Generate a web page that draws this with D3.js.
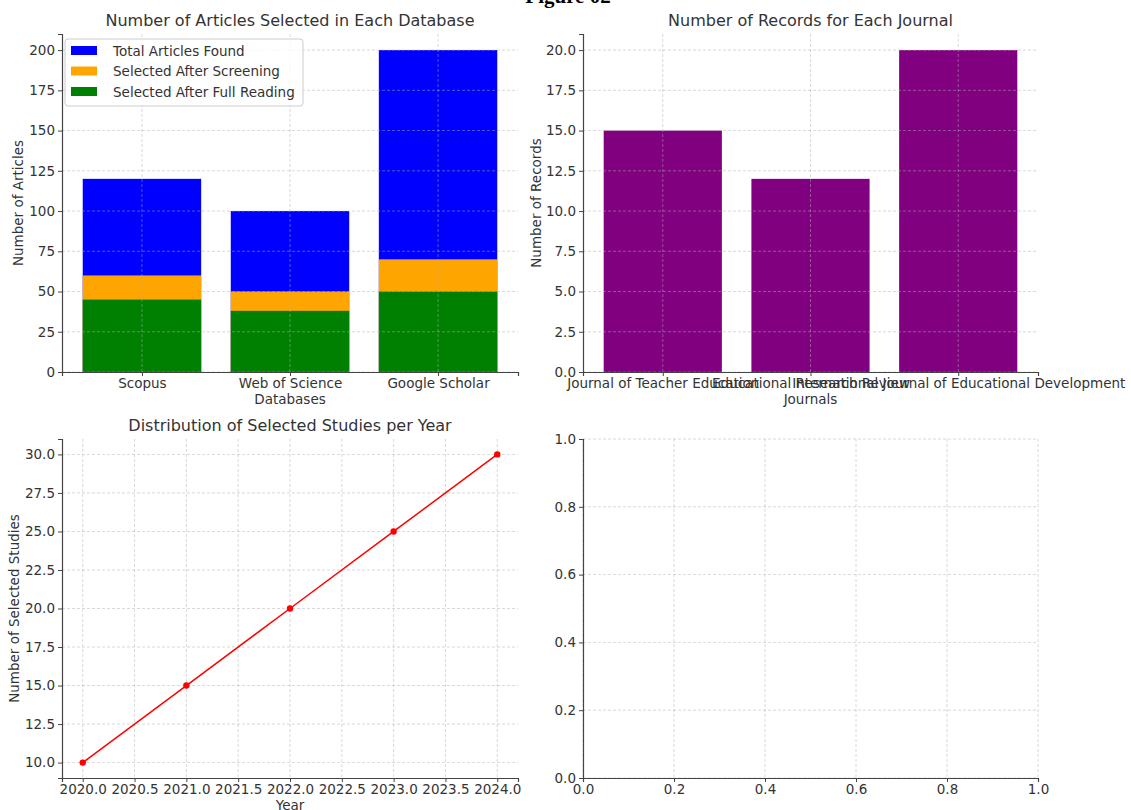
<!DOCTYPE html>
<html>
<head>
<meta charset="utf-8">
<script src="https://cdn.jsdelivr.net/npm/d3@7"></script>
<style>
  body { margin: 0; background: #fff; }
  svg { font-family: "DejaVu Sans", sans-serif; }
  .grid line { stroke: #b0b0b0; stroke-dasharray: 3,2; stroke-width: 0.8; opacity: 0.6; }
  .tick text { fill: #333; font-size: 13.5px; font-family: "DejaVu Sans", sans-serif; }
  .tick line { stroke: #444; }
  .domain { stroke: #444; stroke-width: 1.2; }
  .ttl { fill: #333; font-size: 16px; text-anchor: middle; }
  .lbl { fill: #333; font-size: 13.5px; text-anchor: middle; }
</style>
</head>
<body>
<svg id="chart"></svg>
<script>
const width = 1131;
const height = 810;

// panel 1: databases
const databases = ["Scopus", "Web of Science", "Google Scholar"];
const totalFound = [120, 100, 200];
const afterScreening = [60, 50, 70];
const afterReading = [45, 38, 50];
const seriesNames = ["Total Articles Found", "Selected After Screening", "Selected After Full Reading"];
const seriesColors = ["#0000ff", "#ffa500", "#008000"];

// panel 2: journals
const journals = ["Journal of Teacher Education", "Educational Research Review", "International Journal of Educational Development"];
const journalRecords = [15, 12, 20];

// panel 3: years
const years = [2020, 2021, 2022, 2023, 2024];
const studies = [10, 15, 20, 25, 30];

var svg = d3.select("#chart").attr("width", width).attr("height", height);

// figure title, mostly cut off at the top
svg.append("text")
    .attr("x", 568).attr("y", 3)
    .attr("text-anchor", "middle")
    .style("font-family", "'Liberation Serif', serif")
    .style("font-weight", "bold")
    .style("font-size", "21px")
    .attr("fill", "#000")
    .text("Figure 02");

const panels = {
    tl: {left: 62, right: 518, top: 34, bottom: 372},
    tr: {left: 583, right: 1038, top: 34, bottom: 372},
    bl: {left: 62, right: 518, top: 439, bottom: 778},
    br: {left: 583, right: 1038, top: 439, bottom: 778}
};

function drawAxes(p, x, y, xTicks, xFmt, yTicks, yFmt) {
    var g = svg.append("g");
    var xAxis = d3.axisBottom(x).tickSizeOuter(0).tickSize(4).tickPadding(2);
    if (xTicks) xAxis.tickValues(xTicks);
    if (xFmt) xAxis.tickFormat(xFmt);
    var yAxis = d3.axisLeft(y).tickValues(yTicks).tickFormat(yFmt).tickSizeOuter(0).tickSize(4).tickPadding(3);
    g.append("g").attr("transform", `translate(0,${p.bottom})`).call(xAxis);
    g.append("g").attr("transform", `translate(${p.left},0)`).call(yAxis);
    return g;
}

function drawGrid(p, xVals, x, yVals, y) {
    var g = svg.append("g").attr("class", "grid");
    g.selectAll(".gx").data(xVals).enter().append("line")
        .attr("x1", d => x(d)).attr("x2", d => x(d))
        .attr("y1", p.top).attr("y2", p.bottom);
    g.selectAll(".gy").data(yVals).enter().append("line")
        .attr("x1", p.left).attr("x2", p.right)
        .attr("y1", d => y(d)).attr("y2", d => y(d));
}

function titles(p, title, xl, yl, xlY, ylX) {
    var cx = (p.left + p.right) / 2;
    svg.append("text").attr("class", "ttl").attr("x", cx).attr("y", p.top - 8).text(title);
    if (xl) svg.append("text").attr("class", "lbl").attr("x", cx).attr("y", xlY).text(xl);
    if (yl) svg.append("text").attr("class", "lbl")
        .attr("transform", `translate(${ylX},${(p.top + p.bottom) / 2}) rotate(-90)`)
        .text(yl);
}

// ---------- panel 1 ----------
(function() {
    var p = panels.tl;
    var x = d3.scaleLinear().domain([-0.54, 2.54]).range([p.left, p.right]);
    var y = d3.scaleLinear().domain([0, 210]).range([p.bottom, p.top]);
    var series = [totalFound, afterScreening, afterReading];
    series.forEach(function(vals, si) {
        svg.append("g").selectAll("rect").data(vals).enter().append("rect")
            .attr("x", (d, i) => x(i - 0.4))
            .attr("width", x(0.8) - x(0))
            .attr("y", d => y(d))
            .attr("height", d => y(0) - y(d))
            .attr("fill", seriesColors[si]);
    });
    var yTicks = d3.range(0, 201, 25);
    drawGrid(p, [0, 1, 2], x, yTicks, y);
    drawAxes(p, x, y, [0, 1, 2], i => databases[i], yTicks, d3.format("d"));
    titles(p, "Number of Articles Selected in Each Database", "Databases", "Number of Articles", 404, 23);

    var lg = svg.append("g").attr("transform", "translate(65,39)");
    lg.append("rect").attr("width", 238).attr("height", 67).attr("rx", 3)
        .attr("fill", "#fff").attr("fill-opacity", 0.8).attr("stroke", "#ccc");
    seriesNames.forEach(function(n, i) {
        lg.append("rect").attr("x", 6).attr("y", 7 + i * 20.5).attr("width", 26).attr("height", 9)
            .attr("fill", seriesColors[i]);
        lg.append("text").attr("x", 48).attr("y", 16.5 + i * 20.5)
            .attr("fill", "#333").style("font-size", "13.5px").text(n);
    });
})();

// ---------- panel 2 ----------
(function() {
    var p = panels.tr;
    var x = d3.scaleLinear().domain([-0.54, 2.54]).range([p.left, p.right]);
    var y = d3.scaleLinear().domain([0, 21]).range([p.bottom, p.top]);
    svg.append("g").selectAll("rect").data(journalRecords).enter().append("rect")
        .attr("x", (d, i) => x(i - 0.4))
        .attr("width", x(0.8) - x(0))
        .attr("y", d => y(d))
        .attr("height", d => y(0) - y(d))
        .attr("fill", "#800080");
    var yTicks = d3.range(0, 20.1, 2.5);
    drawGrid(p, [0, 1, 2], x, yTicks, y);
    drawAxes(p, x, y, [0, 1, 2], i => journals[i], yTicks, d3.format(".1f"));
    titles(p, "Number of Records for Each Journal", "Journals", "Number of Records", 404, 541);
})();

// ---------- panel 3 ----------
(function() {
    var p = panels.bl;
    var x = d3.scaleLinear().domain([2019.8, 2024.2]).range([p.left, p.right]);
    var y = d3.scaleLinear().domain([9, 31]).range([p.bottom, p.top]);
    var xTicks = d3.range(2020, 2024.01, 0.5);
    var yTicks = d3.range(10, 30.1, 2.5);
    drawGrid(p, xTicks, x, yTicks, y);
    var line = d3.line().x((d, i) => x(years[i])).y(d => y(d));
    svg.append("path").datum(studies).attr("d", line)
        .attr("fill", "none").attr("stroke", "#ff0000").attr("stroke-width", 1.5);
    svg.append("g").selectAll("circle").data(studies).enter().append("circle")
        .attr("cx", (d, i) => x(years[i])).attr("cy", d => y(d)).attr("r", 3.2)
        .attr("fill", "#ff0000");
    drawAxes(p, x, y, xTicks, d3.format(".1f"), yTicks, d3.format(".1f"));
    titles(p, "Distribution of Selected Studies per Year", "Year", "Number of Selected Studies", 810, 19);
})();

// ---------- panel 4 (empty) ----------
(function() {
    var p = panels.br;
    var x = d3.scaleLinear().domain([0, 1]).range([p.left, p.right]);
    var y = d3.scaleLinear().domain([0, 1]).range([p.bottom, p.top]);
    var t = d3.range(0, 1.01, 0.2);
    drawGrid(p, t, x, t, y);
    drawAxes(p, x, y, t, d3.format(".1f"), t, d3.format(".1f"));
})();
</script>
</body>
</html>
